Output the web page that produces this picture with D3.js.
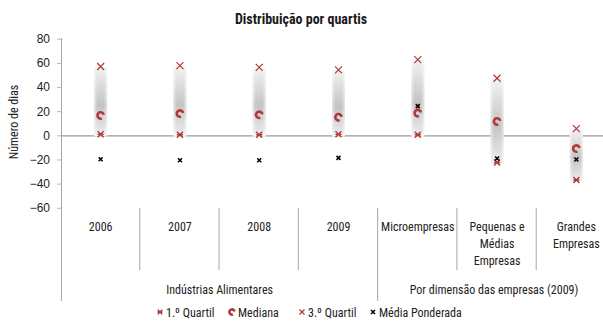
<!DOCTYPE html>
<html>
<head>
<meta charset="utf-8">
<script src="https://cdn.jsdelivr.net/npm/d3@7/dist/d3.min.js"></script>
<style>
  html, body { margin: 0; padding: 0; background: #fff; }
  svg { display: block; font-family: "Liberation Sans Narrow", "Arial Narrow", "Roboto Condensed", "Liberation Sans", sans-serif; }
</style>
</head>
<body>
<svg id="chart" width="603" height="324"></svg>
<script>
// Categories and their display lines
const categories = ["2006", "2007", "2008", "2009", "Microempresas", "PME", "Grandes"];
const categoryLines = [["2006"], ["2007"], ["2008"], ["2009"], ["Microempresas"], ["Pequenas e", "Médias", "Empresas"], ["Grandes", "Empresas"]];
const groups = [
  { label: "Indústrias Alimentares", from: 0, to: 3 },
  { label: "Por dimensão das empresas (2009)", from: 4, to: 6 }
];

// Series values (número de dias)
const quartil1 = [0.8, 0.5, 0.5, 0.8, 0.5, -22.5, -37];
const mediana = [16.5, 18, 17, 15, 18.4, 11.5, -11];
const quartil3 = [57, 57.7, 56.3, 54.2, 62.7, 47.3, 5.5];
const mediaPonderada = [-19.8, -20.6, -20.6, -18.7, 24.2, -19.2, -20];

const yTicks = [80, 60, 40, 20, 0, -20, -40, -60];

const RED = "#b0383a";
const svg = d3.select("#chart");

const x = d3.scaleBand().domain(categories).range([61, 616]).padding(0);
const y = d3.scaleLinear().domain([-60, 80]).range([207.75, 38.75]);

// Gradient for the interquartile bands
const defs = svg.append("defs");
const grad = defs.append("linearGradient").attr("id", "band").attr("x1", 0).attr("y1", 0).attr("x2", 0).attr("y2", 1);
grad.append("stop").attr("offset", "0%").attr("stop-color", "#f3f3f3");
grad.append("stop").attr("offset", "55%").attr("stop-color", "#c4c4c4");
grad.append("stop").attr("offset", "100%").attr("stop-color", "#eeeeee");
const gradH = defs.append("linearGradient").attr("id", "bandEdge").attr("x1", 0).attr("y1", 0).attr("x2", 1).attr("y2", 0);
gradH.append("stop").attr("offset", "0%").attr("stop-color", "#fff").attr("stop-opacity", 0.55);
gradH.append("stop").attr("offset", "25%").attr("stop-color", "#fff").attr("stop-opacity", 0);
gradH.append("stop").attr("offset", "75%").attr("stop-color", "#fff").attr("stop-opacity", 0);
gradH.append("stop").attr("offset", "100%").attr("stop-color", "#fff").attr("stop-opacity", 0.55);
defs.append("filter").attr("id", "soft").append("feGaussianBlur").attr("stdDeviation", 0.6);

// Title
svg.append("text").attr("x", 301).attr("y", 24).attr("text-anchor", "middle")
  .attr("font-size", 14).attr("font-weight", "bold").attr("fill", "#1a1a1a")
  .text("Distribuição por quartis");

// Y axis title
svg.append("text").attr("transform", "translate(18,122) rotate(-90)").attr("text-anchor", "middle")
  .attr("font-size", 12).attr("fill", "#222").text("Número de dias");

// Y axis
const yAxis = d3.axisLeft(y).tickValues(yTicks).tickSize(4).tickPadding(7).tickFormat(d3.format("d"));
const gy = svg.append("g").attr("transform", "translate(61,0)").call(yAxis);
gy.select(".domain").remove();
gy.selectAll(".tick line").attr("stroke", "#b8b8b8");
gy.selectAll(".tick text").attr("font-size", 12).attr("fill", "#222")
  .attr("font-family", "Liberation Sans Narrow, Arial Narrow, sans-serif");
svg.append("line").attr("x1", 61.5).attr("x2", 61.5).attr("y1", 38).attr("y2", 301)
  .attr("stroke", "#a6a6a6").attr("stroke-width", 1);

// Zero line with category tick marks
svg.append("line").attr("x1", 61).attr("x2", 603).attr("y1", y(0) + 0.5).attr("y2", y(0) + 0.5)
  .attr("stroke", "#9a9a9a").attr("stroke-width", 1.2);
categories.slice(1).forEach(c => {
  svg.append("line").attr("x1", x(c)).attr("x2", x(c)).attr("y1", y(0)).attr("y2", y(0) + 4)
    .attr("stroke", "#aaa").attr("stroke-width", 1.5).attr("filter", "url(#soft)");
});

// Interquartile bands
const bandW = 13;
svg.append("g").selectAll("rect").data(categories).join("rect")
  .attr("x", c => x(c) + x.bandwidth() / 2 - bandW / 2)
  .attr("y", (c, i) => y(quartil3[i]))
  .attr("width", bandW)
  .attr("height", (c, i) => y(quartil1[i]) - y(quartil3[i]) + 2)
  .attr("fill", "url(#band)").attr("filter", "url(#soft)");
svg.append("g").selectAll("rect").data(categories).join("rect")
  .attr("x", c => x(c) + x.bandwidth() / 2 - bandW / 2)
  .attr("y", (c, i) => y(quartil3[i]))
  .attr("width", bandW)
  .attr("height", (c, i) => y(quartil1[i]) - y(quartil3[i]) + 2)
  .attr("fill", "url(#bandEdge)");

// Marker shapes
function crossPath(s) { return `M${-s},${-s}L${s},${s}M${-s},${s}L${s},${-s}`; }
function q1Path(s) { return crossPath(s) + `M${-s},0L${s},0`; }
function medianPath(r) {
  const a0 = 70 * Math.PI / 180, a1 = 350 * Math.PI / 180;
  const p = d3.path();
  p.arc(0, 0, r, a0, a1, false);
  return p.toString();
}
function drawQ1(g, cx, cy, s = 3) {
  g.append("path").attr("transform", `translate(${cx},${cy})`).attr("d", q1Path(s))
    .attr("stroke", RED).attr("stroke-width", 1.4).attr("fill", "none");
}
function drawQ3(g, cx, cy, s = 3.5) {
  g.append("path").attr("transform", `translate(${cx},${cy})`).attr("d", crossPath(s))
    .attr("stroke", RED).attr("stroke-width", 1.2).attr("fill", "none");
}
function drawMed(g, cx, cy, s = 3.2) {
  g.append("path").attr("transform", `translate(${cx},${cy})`).attr("d", medianPath(s))
    .attr("stroke", RED).attr("stroke-width", 2.6).attr("fill", "none");
}
function drawMean(g, cx, cy, s = 2) {
  g.append("path").attr("transform", `translate(${cx},${cy})`).attr("d", crossPath(s))
    .attr("stroke", "#000").attr("stroke-width", 1.5).attr("fill", "none");
}

const marks = svg.append("g");
categories.forEach((c, i) => {
  const cx = x(c) + x.bandwidth() / 2;
  drawQ1(marks, cx, y(quartil1[i]));
  drawMed(marks, cx, y(mediana[i]));
  drawQ3(marks, cx, y(quartil3[i]));
  drawMean(marks, cx, y(mediaPonderada[i]));
});

// Category label table
const labelTop = 208, labelBottom = 270, groupBottom = 301;
function sep(xp, y1, y2) {
  svg.append("line").attr("x1", xp).attr("x2", xp).attr("y1", y1).attr("y2", y2)
    .attr("stroke", "#d8d8d8").attr("stroke-width", 3).attr("filter", "url(#soft)");
  svg.append("line").attr("x1", xp - 0.5).attr("x2", xp - 0.5).attr("y1", y1).attr("y2", y2)
    .attr("stroke", "#a6a6a6").attr("stroke-width", 1);
}
categories.forEach((c, i) => {
  if (i === 0) return;
  const isGroupEdge = groups.some(g => g.from === i);
  sep(x(c), labelTop, isGroupEdge ? groupBottom : labelBottom);
});
categories.forEach((c, i) => {
  const cx = x(c) + x.bandwidth() / 2;
  categoryLines[i].forEach((line, k) => {
    svg.append("text").attr("x", cx).attr("y", 231 + k * 17).attr("text-anchor", "middle")
      .attr("font-size", 12).attr("fill", "#222").text(line);
  });
});
groups.forEach(g => {
  const x0 = x(categories[g.from]);
  const x1 = x(categories[g.to]) + x.bandwidth();
  const cx = g.to === categories.length - 1 ? (x0 + x1) / 2 - 3 : (x0 + x1) / 2;
  svg.append("text").attr("x", cx).attr("y", 294).attr("text-anchor", "middle")
    .attr("font-size", 12).attr("fill", "#222").text(g.label);
});

// Legend
const legend = svg.append("g");
const ly = 312;
const items = [
  { draw: drawQ1, x: 160, size: 2.3, label: "1.º Quartil" },
  { draw: drawMed, x: 232, size: 2.6, label: "Mediana" },
  { draw: drawQ3, x: 302, size: 2.5, label: "3.º Quartil" },
  { draw: drawMean, x: 373, size: 2, label: "Média Ponderada" }
];
items.forEach(it => {
  it.draw(legend, it.x, ly, it.size);
  legend.append("text").attr("x", it.x + 6).attr("y", ly + 4.5).attr("font-size", 12)
    .attr("fill", "#222").text(it.label);
});
</script>
</body>
</html>
